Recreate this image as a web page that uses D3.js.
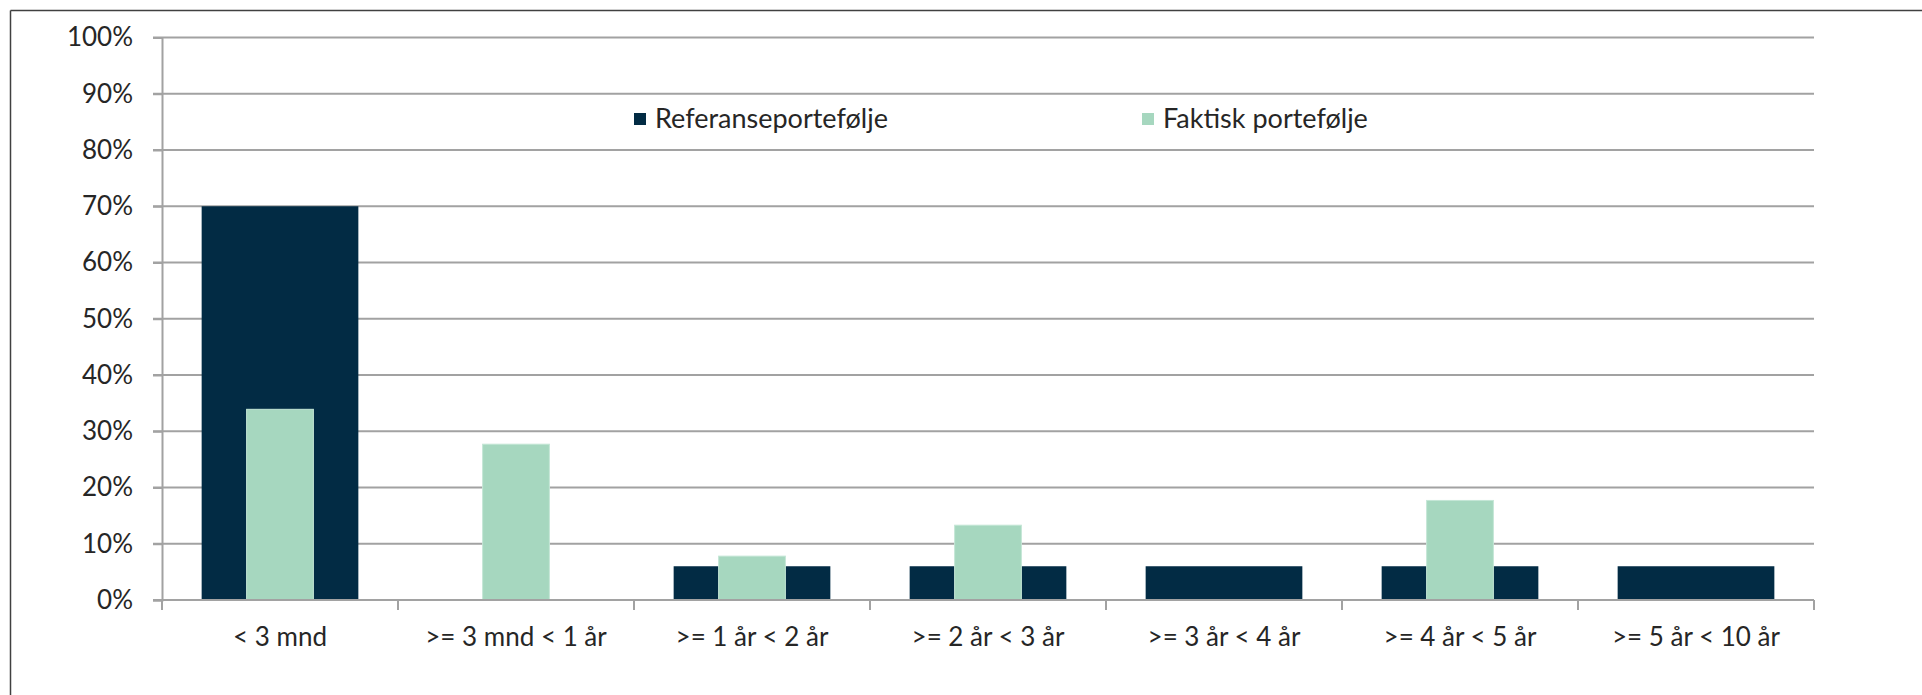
<!DOCTYPE html>
<html>
<head>
<meta charset="utf-8">
<script src="https://cdn.jsdelivr.net/npm/d3@7"></script>
<style>
  html, body { margin: 0; padding: 0; background: #fff; }
  svg { display: block; }
  text { font-family: Lato, "Open Sans", sans-serif; fill: #262626; }
</style>
</head>
<body>
<svg id="chart" width="1922" height="695"></svg>
<script>
const categories = ["< 3 mnd", ">= 3 mnd < 1 år", ">= 1 år < 2 år", ">= 2 år < 3 år", ">= 3 år < 4 år", ">= 4 år < 5 år", ">= 5 år < 10 år"];
const referanse = [0.70, 0.0, 0.06, 0.06, 0.06, 0.06, 0.06];
const faktisk = [0.339, 0.277, 0.078, 0.133, 0.0, 0.177, 0.0];
const seriesNames = ["Referanseportefølje", "Faktisk portefølje"];
const yTicks = [0, 0.1, 0.2, 0.3, 0.4, 0.5, 0.6, 0.7, 0.8, 0.9, 1.0];

(function () {
const colors = { ref: "#022b44", fak: "#a6d7bf", grid: "#a2a2a2" };

const svg = d3.select("#chart");

// outer frame (left + top visible)
svg.append("line").attr("x1", 10.5).attr("y1", 10.5).attr("x2", 1922).attr("y2", 10.5)
  .attr("stroke", "#404040").attr("stroke-width", 1.5);
svg.append("line").attr("x1", 10.5).attr("y1", 10.5).attr("x2", 10.5).attr("y2", 695)
  .attr("stroke", "#404040").attr("stroke-width", 1.5);

const pLeft = 162, pRight = 1814, pTop = 37.5, pBottom = 600;

const x = d3.scaleBand().domain(categories).range([pLeft, pRight]).padding(0);
const y = d3.scaleLinear().domain([0, 1]).range([pBottom, pTop]);

// gridlines
svg.append("g").selectAll("line").data(yTicks.filter(d => d > 0)).join("line")
  .attr("x1", pLeft - 9).attr("x2", pRight)
  .attr("y1", d => y(d)).attr("y2", d => y(d))
  .attr("stroke", colors.grid).attr("stroke-width", 2);

// y axis
const yAxis = d3.axisLeft(y).tickValues(yTicks).tickFormat(d3.format(".0%")).tickSize(9).tickPadding(20);
const gy = svg.append("g").attr("transform", `translate(${pLeft},0)`).call(yAxis);
gy.select(".domain").attr("stroke", colors.grid).attr("stroke-width", 2);
gy.selectAll(".tick line").attr("stroke", colors.grid).attr("stroke-width", 2);
gy.selectAll("text").style("font-size", "26px").style("font-family", "Lato, sans-serif").attr("fill", "#262626");

// bars
const bw = x.bandwidth();
const refW = bw * 0.664, fakW = bw * 0.283;
svg.append("g").selectAll("rect").data(categories).join("rect")
  .attr("x", (d) => x(d) + (bw - refW) / 2)
  .attr("width", refW)
  .attr("y", (d, i) => y(referanse[i]))
  .attr("height", (d, i) => pBottom - y(referanse[i]))
  .attr("fill", colors.ref);
svg.append("g").selectAll("rect").data(categories).join("rect")
  .attr("x", (d) => x(d) + (bw - fakW) / 2)
  .attr("width", fakW)
  .attr("y", (d, i) => y(faktisk[i]))
  .attr("height", (d, i) => pBottom - y(faktisk[i]))
  .attr("fill", colors.fak)
  .attr("stroke", (d, i) => faktisk[i] > 0 ? "#c4e6d6" : "none")
  .attr("stroke-width", 1);

// x axis
const xAxis = d3.axisBottom(x).tickSize(0).tickPadding(28);
const gx = svg.append("g").attr("transform", `translate(0,${pBottom})`).call(xAxis);
gx.select(".domain").remove();
gx.selectAll("text").style("font-size", "26px").style("font-family", "Lato, sans-serif").attr("fill", "#262626");
svg.append("line").attr("x1", pLeft - 9).attr("x2", pRight).attr("y1", pBottom).attr("y2", pBottom)
  .attr("stroke", colors.grid).attr("stroke-width", 2);
const boundaries = categories.map(c => x(c)).concat([pRight]);
svg.append("g").selectAll("line").data(boundaries).join("line")
  .attr("x1", d => d).attr("x2", d => d).attr("y1", pBottom).attr("y2", pBottom + 10)
  .attr("stroke", colors.grid).attr("stroke-width", 2);

// legend
const legendItems = [
  { name: seriesNames[0], color: colors.ref, x: 634 },
  { name: seriesNames[1], color: colors.fak, x: 1142 }
];
const lg = svg.append("g").selectAll("g").data(legendItems).join("g")
  .attr("transform", d => `translate(${d.x},119)`);
lg.append("rect").attr("x", 0).attr("y", -6).attr("width", 12).attr("height", 12).attr("fill", d => d.color);
lg.append("text").attr("x", 21).attr("y", 0).attr("dy", "0.35em")
  .style("font-size", "27px").text(d => d.name);
})();
</script>
</body>
</html>
